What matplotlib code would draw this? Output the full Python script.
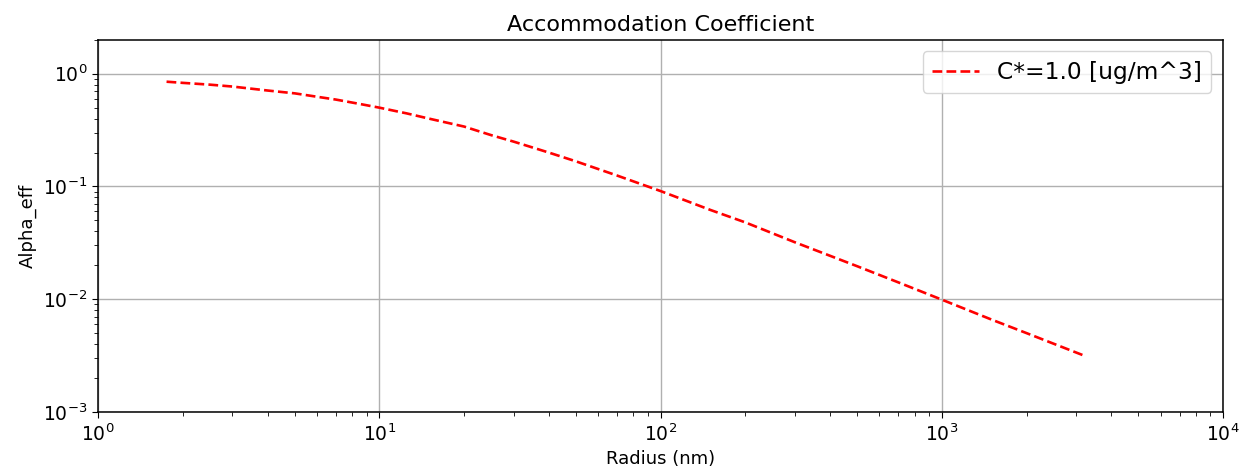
import matplotlib
matplotlib.use("Agg")
import matplotlib.pyplot as plt

# particle radius (nm) and effective accommodation coefficient
radius_nm = [1.75, 2.0, 2.5, 3.0, 4.0, 5.0, 6.0, 7.0, 8.5, 10.0, 12.5, 15.0, 20.0, 25.0,
             30.0, 40.0, 50.0, 70.0, 100.0, 150.0, 200.0, 300.0, 500.0, 700.0,
             1000.0, 1500.0, 2000.0, 3160.0]
alpha_eff = [0.85, 0.83, 0.80, 0.77, 0.71, 0.67, 0.625, 0.59, 0.54, 0.50, 0.445, 0.40,
             0.34, 0.285, 0.25, 0.20, 0.167, 0.125, 0.091, 0.062, 0.048, 0.032,
             0.0196, 0.0141, 0.0099, 0.0066, 0.0050, 0.0032]

plt.rcParams.update({
    "font.size": 13,
    "xtick.labelsize": 13.5,
    "ytick.labelsize": 13.5,
    "xtick.major.size": 4.5,
    "ytick.major.size": 4.5,
    "xtick.minor.size": 2.6,
    "ytick.minor.size": 2.6,
    "axes.linewidth": 1.1,
    "grid.linewidth": 1.0,
})

fig, ax = plt.subplots(figsize=(12.43, 4.74), dpi=100)
ax.plot(radius_nm, alpha_eff, "r--", lw=1.9, label="C*=1.0 [ug/m^3]")
ax.set_xscale("log")
ax.set_yscale("log")
ax.set_xlim(1, 1e4)
ax.set_ylim(1e-3, 2)
ax.set_xlabel("Radius (nm)")
ax.set_ylabel("Alpha_eff")
ax.set_title("Accommodation Coefficient", fontsize=16)
ax.grid(True)
ax.legend(loc="upper right", fontsize=16.8)
fig.subplots_adjust(left=0.079, right=0.984, top=0.916, bottom=0.131)
fig.savefig("out.png")
